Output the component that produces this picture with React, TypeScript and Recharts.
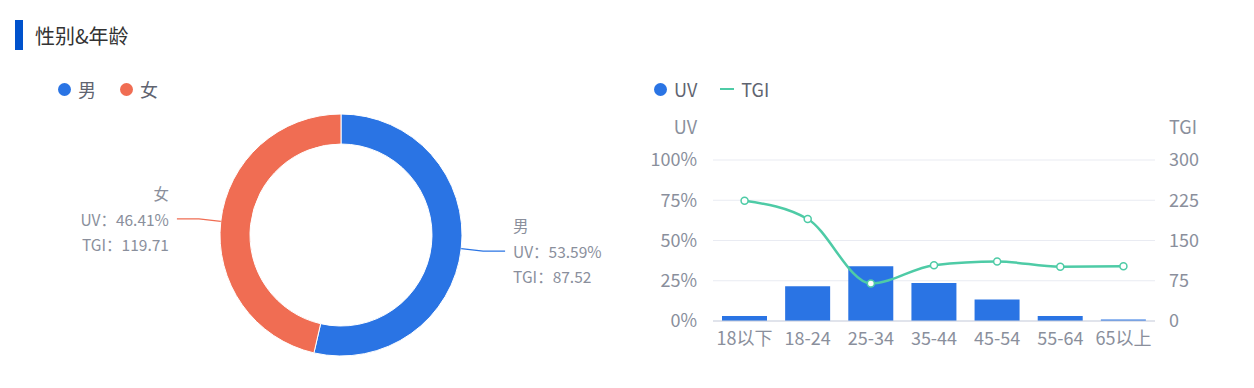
import {
  PieChart,
  Pie,
  Cell,
  ComposedChart,
  Bar,
  Line,
  XAxis,
  YAxis,
  CartesianGrid,
} from "recharts";

const genderNames = ["男", "女"];
const genderUv = [53.59, 46.41];
const genderTgi = [87.52, 119.71];
const genderColors = ["#2a74e4", "#f06d53"];

const ageGroups = ["18以下", "18-24", "25-34", "35-44", "45-54", "55-64", "65以上"];
const ageUv = [3.1, 21.6, 34, 23.6, 13.3, 3.1, 0.9];
const ageTgi = [224, 190, 70, 104, 111, 101, 102];
const uvTicks = [0, 25, 50, 75, 100];
const tgiTicks = [0, 75, 150, 225, 300];

const FONT = '"Noto Sans CJK SC", "Microsoft YaHei", sans-serif';
const GRAY = "#8a8f9c";
const LINE_COLOR = "#4ecba6";
const RADIAN = Math.PI / 180;

const pieData = genderNames.map((name, i) => ({
  name,
  value: genderUv[i],
  tgi: genderTgi[i],
}));

const ageData = ageGroups.map((name, i) => ({
  name,
  uv: ageUv[i],
  tgi: ageTgi[i],
}));

function renderPieLabel(props: any) {
  const { cx, cy, midAngle, outerRadius, index } = props;
  const cos = Math.cos(-midAngle * RADIAN);
  const sin = Math.sin(-midAngle * RADIAN);
  const x0 = cx + outerRadius * cos;
  const y0 = cy + outerRadius * sin;
  const x1 = cx + (outerRadius + 22) * cos;
  const y1 = cy + (outerRadius + 22) * sin;
  const right = cos >= 0;
  const x2 = x1 + (right ? 22 : -22);
  const tx = x2 + (right ? 8 : -8);
  const anchor = right ? "start" : "end";
  const color = genderColors[index];
  const textProps = {
    x: tx,
    textAnchor: anchor,
    dominantBaseline: "central",
    fill: GRAY,
    fontSize: 15.5,
    fontFamily: FONT,
  } as const;
  return (
    <g>
      <polyline
        points={`${x0},${y0} ${x1},${y1} ${x2},${y1}`}
        fill="none"
        stroke={color}
        strokeWidth={1.2}
      />
      <text {...textProps} y={y1 - 26}>
        {genderNames[index]}
      </text>
      <text {...textProps} y={y1}>
        {`UV：${genderUv[index].toFixed(2)}%`}
      </text>
      <text {...textProps} y={y1 + 25}>
        {`TGI：${genderTgi[index].toFixed(2)}`}
      </text>
    </g>
  );
}

const abs = (left: number, top: number, extra: React.CSSProperties = {}): React.CSSProperties => ({
  position: "absolute",
  left,
  top,
  ...extra,
});

export default function App() {
  return (
    <div
      style={{
        position: "absolute",
        left: 0,
        top: 0,
        width: 1254,
        height: 388,
        background: "#fff",
        fontFamily: FONT,
        overflow: "hidden",
      }}
    >
      {/* header */}
      <div style={abs(15, 20, { width: 8, height: 30, background: "#0052cc" })} />
      <div style={abs(35, 22, { fontSize: 20, lineHeight: "28px", color: "#333" })}>性别&年龄</div>

      {/* gender legend */}
      {genderNames.map((n, i) => (
        <div key={n} style={abs(i === 0 ? 58 : 120, 77, { display: "flex", alignItems: "center", height: 24 })}>
          <span style={{ width: 13, height: 13, borderRadius: "50%", background: genderColors[i], display: "inline-block" }} />
          <span style={{ marginLeft: 7, fontSize: 18, color: "#5f6470" }}>{n}</span>
        </div>
      ))}

      <div style={abs(0, 0)}>
        <PieChart width={620} height={388} margin={{ top: 0, right: 0, bottom: 0, left: 0 }}>
          <Pie
            data={pieData}
            dataKey="value"
            cx={341}
            cy={235}
            innerRadius={91}
            outerRadius={121}
            startAngle={90}
            endAngle={-270}
            stroke="#fff"
            strokeWidth={1}
            label={renderPieLabel}
            labelLine={false}
            isAnimationActive={false}
          >
            {pieData.map((d, i) => (
              <Cell key={d.name} fill={genderColors[i]} />
            ))}
          </Pie>
        </PieChart>
      </div>

      {/* age legend */}
      <div style={abs(654, 77, { display: "flex", alignItems: "center", height: 24 })}>
        <span style={{ width: 13, height: 13, borderRadius: "50%", background: "#2a74e4", display: "inline-block" }} />
        <span style={{ marginLeft: 7, fontSize: 18, color: "#5f6470" }}>UV</span>
        <span style={{ marginLeft: 23, width: 14, height: 2, background: LINE_COLOR, display: "inline-block" }} />
        <span style={{ marginLeft: 7, fontSize: 18, color: "#5f6470" }}>TGI</span>
      </div>
      <div style={abs(640, 114, { width: 57, textAlign: "right", fontSize: 18, lineHeight: "24px", color: GRAY })}>UV</div>
      <div style={abs(1169, 114, { fontSize: 18, lineHeight: "24px", color: GRAY })}>TGI</div>

      <div style={abs(620, 0)}>
        <ComposedChart
          width={634}
          height={388}
          data={ageData}
          margin={{ top: 160, right: 39, bottom: 37, left: 0 }}
        >
          <CartesianGrid vertical={false} stroke="#e9ebf2" yAxisId="left" />
          <XAxis
            dataKey="name"
            height={30}
            tickLine={false}
            axisLine={{ stroke: "#cdd2de" }}
            tickMargin={5}
            interval={0}
            tick={{ fontSize: 18, fill: GRAY, fontFamily: FONT }}
          />
          <YAxis
            yAxisId="left"
            width={93}
            domain={[0, 100]}
            ticks={uvTicks}
            tickFormatter={(v) => `${v}%`}
            axisLine={false}
            tickLine={false}
            tickMargin={10}
            tick={{ fontSize: 18, fill: GRAY, fontFamily: FONT }}
          />
          <YAxis
            yAxisId="right"
            orientation="right"
            width={60}
            domain={[0, 300]}
            ticks={tgiTicks}
            axisLine={false}
            tickLine={false}
            tickMargin={8}
            tick={{ fontSize: 18, fill: GRAY, fontFamily: FONT }}
          />
          <Bar yAxisId="left" dataKey="uv" fill="#2a74e4" barSize={45} isAnimationActive={false} />
          <Line
            yAxisId="right"
            dataKey="tgi"
            type="monotone"
            stroke={LINE_COLOR}
            strokeWidth={2.5}
            dot={{ r: 3.5, fill: "#fff", stroke: LINE_COLOR, strokeWidth: 1.5 }}
            isAnimationActive={false}
          />
        </ComposedChart>
      </div>
    </div>
  );
}
